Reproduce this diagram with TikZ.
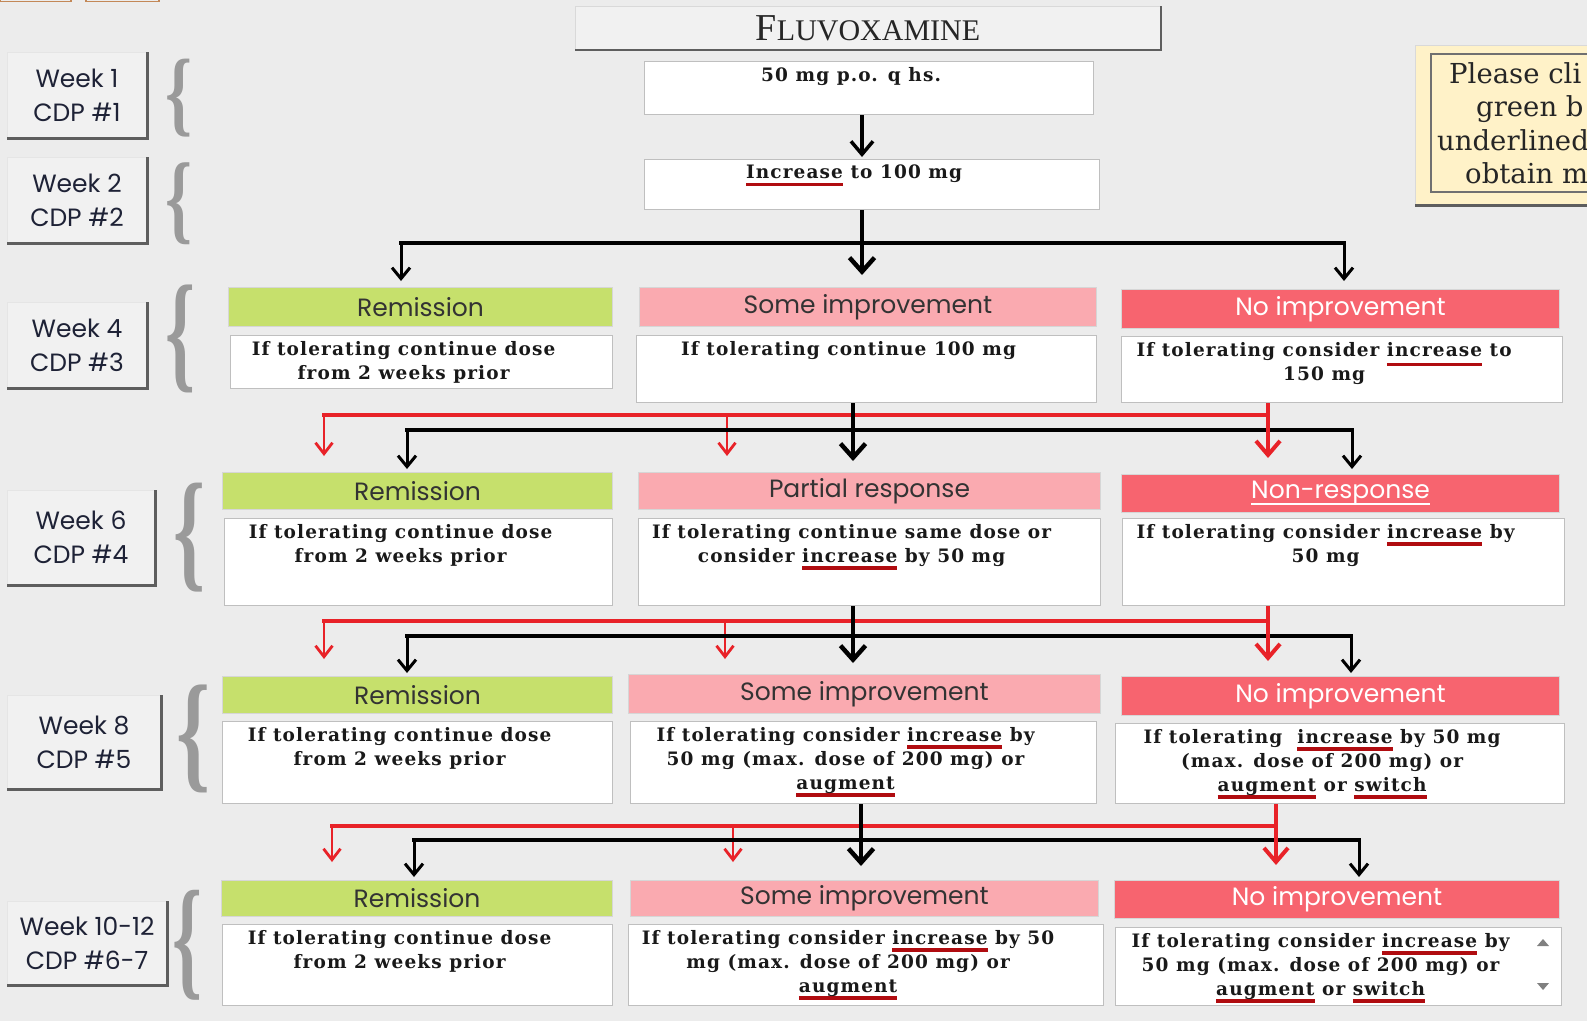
\documentclass[tikz,border=0pt]{standalone}
\usepackage{fontspec}
\usepackage{graphicx}
\setmainfont{DejaVu Serif}
\newfontfamily\hdfont{Poppins}
\newfontfamily\ttlfont{Liberation Serif}
\newfontfamily\bodyfont[LetterSpace=6]{DejaVu Serif}
\usetikzlibrary{arrows.meta}

\definecolor{bg}{HTML}{ECECEC}
\definecolor{remgreen}{HTML}{C6E06C}
\definecolor{somepink}{HTML}{FAAAB0}
\definecolor{nored}{HTML}{F7646F}
\definecolor{ulred}{HTML}{B00C10}
\definecolor{arrred}{HTML}{E82228}
\definecolor{hdtext}{HTML}{333333}
\definecolor{weektext}{HTML}{1E2236}
\definecolor{bracegray}{HTML}{9A9A9A}
\definecolor{notebg}{HTML}{FFF2C8}
\definecolor{notefrm}{HTML}{707070}
\definecolor{btnfill}{HTML}{F1F1F1}
\definecolor{btnshadow}{HTML}{5E5E5E}
\definecolor{tanfrm}{HTML}{C38857}

% underlined link words
\newsavebox\ulbox
\newcommand\ulc[4]{\sbox\ulbox{#4}\rlap{\color{#1}\rule[#2]{\wd\ulbox}{#3}}\usebox\ulbox}
\newcommand\redul[1]{\ulc{ulred}{-7.5pt}{3.6pt}{#1}}

% box from corner coordinates: style, name, x1, y1, x2, y2, text
\newcommand\mkbox[7]{\node[#1, anchor=north west, minimum width={#5-#3}, minimum height={#6-#4}] (#2) at (#3,#4) {#7};}
% week button with shadow
\newcommand\weekbtn[6]{%
  \mkbox{weekbox}{#1}{#2}{#3}{#4}{#5}{#6}
  \draw[btnshadow, line width=3pt] (#1.south west) -- (#1.south east) -- (#1.north east);}
% curly brace glyph stretched to a box
\newdimen\brw \newdimen\brh
\newcommand\bracebox[5]{\node[inner sep=0pt, text=bracegray] (#1) at ({(#2+#4)/2},{(#3+#5)/2})
  {\brw=\dimexpr#4pt-#2pt\relax\brh=\dimexpr#5pt-#3pt\relax\resizebox*{\brw}{\brh}{\ttlfont\bfseries\{}};}

\tikzset{
  hdbox/.style={draw=black!16, line width=1pt, inner sep=0pt,
    font=\hdfont\fontsize{25}{28}\selectfont, text=hdtext},
  remhd/.style={hdbox, fill=remgreen},
  somehd/.style={hdbox, fill=somepink},
  nohd/.style={hdbox, fill=nored, text=white},
  txtbox/.style={draw=black!25, fill=white, line width=1.2pt, inner sep=0pt},
  bodytxt/.style={font=\bodyfont\bfseries\fontsize{18.5}{24}\selectfont, align=center,
    inner sep=0pt, anchor=north, text=black!90, xshift=-18pt, yshift=-6pt},
  weekbox/.style={fill=btnfill, draw=white!90!black, line width=1pt, inner sep=0pt,
    font=\hdfont\fontsize{25}{34}\selectfont, text=weektext, align=center},
  blkh/.style={draw=black, line width=4.5pt, line cap=rect},
  blkdrop/.style={draw=black, line width=3pt, -{Straight Barb[length=11pt,width=18pt]}},
  blkmain/.style={draw=black, line width=4.5pt, -{Straight Barb[length=14pt,width=25pt]}},
  redh/.style={draw=arrred, line width=4.5pt, line cap=rect},
  reddrop/.style={draw=arrred, line width=2.8pt, -{Straight Barb[length=11pt,width=17pt]}},
  redmain/.style={draw=arrred, line width=4pt, -{Straight Barb[length=14pt,width=24pt]}},
}

\begin{document}
\begin{tikzpicture}[x=1pt, y=-1pt]
\fill[bg] (0,0) rectangle (1587,1021);
\useasboundingbox (0,0) rectangle (1587,1021);
\clip (0,0) rectangle (1587,1021);

% cut-off buttons at the top edge
\draw[draw=tanfrm, line width=1.5pt] (0,-20) rectangle (71,1.5);
\draw[draw=tanfrm, line width=1.5pt] (86,-20) rectangle (159,1.5);

% title
\mkbox{fill=btnfill, draw=white!85!black, line width=1pt, inner sep=0pt}{title}{575}{6}{1160}{49}
  {\ttlfont\color{black!85}\fontsize{38}{38}\selectfont F\fontsize{30}{30}\selectfont LUVOXAMINE}
\draw[btnshadow, line width=2.5pt] (title.south west) -- (title.south east) -- (title.north east);

% note panel
\fill[notebg] (1415,45) rectangle (1600,205);
\draw[white!85!black, line width=1pt] (1415,205) -- (1415,45) -- (1600,45);
\draw[btnshadow, line width=3pt] (1415,205) -- (1600,205);
\draw[notefrm, line width=2.5pt] (1600,54) -- (1431,54) -- (1431,192) -- (1600,192);
\begin{scope}[every node/.style={anchor=base west, inner sep=0pt,
    font=\fontsize{27.5}{33}\selectfont, text=black!85}]
  \node (n1) at (1449,83) {Please cli};
  \node (n2) at (1476,116) {green b};
  \node (n3) at (1437,150) {underlined};
  \node (n4) at (1465,183) {obtain m};
\end{scope}

% week buttons and braces
\weekbtn{w1}{7}{52}{146}{137}{Week 1\\CDP \#1}
\weekbtn{w2}{7}{157}{146}{242}{Week 2\\CDP \#2}
\weekbtn{w4}{7}{302}{146}{387}{Week 4\\CDP \#3}
\weekbtn{w6}{7}{490}{154}{584}{Week 6\\CDP \#4}
\weekbtn{w8}{7}{695}{160}{788}{Week 8\\CDP \#5}
\weekbtn{w10}{7}{901}{166}{984}{Week 10-12\\CDP \#6-7}
\bracebox{br1}{166}{59}{193}{137}
\bracebox{br2}{166}{163}{193}{245}
\bracebox{br4}{166}{285}{196}{393}
\bracebox{br6}{174}{483}{206}{592}
\bracebox{br8}{177}{685}{211}{793}
\bracebox{br10}{173}{890}{203}{1000}

% start
\mkbox{txtbox}{b1}{644}{61}{1093}{114}{}
\node[bodytxt] (b1t) at (b1.north) {50 mg p.o. q hs.};
\mkbox{txtbox}{b2}{644}{159}{1099}{209}{}
\node[bodytxt] (b2t) at (b2.north) {\redul{Increase} to 100 mg};

% week 4
\mkbox{remhd}{h11}{228}{287}{612}{326}{Remission}
\mkbox{somehd}{h12}{639}{287}{1096}{326}{Some improvement}
\mkbox{nohd}{h13}{1121}{289}{1559}{328}{No improvement}
\mkbox{txtbox}{t11}{230}{335}{612}{388}{}
\mkbox{txtbox}{t12}{636}{335}{1096}{402}{}
\mkbox{txtbox}{t13}{1121}{336}{1562}{402}{}
\node[bodytxt] (t11t) at (t11.north) {If tolerating continue dose\\from 2 weeks prior};
\node[bodytxt] (t12t) at (t12.north) {If tolerating continue 100 mg};
\node[bodytxt] (t13t) at (t13.north) {If tolerating consider \ulc{ulred}{-10pt}{3.6pt}{increase} to\\150 mg};

% week 6
\mkbox{remhd}{h21}{222}{472}{612}{509}{Remission}
\mkbox{somehd}{h22}{638}{472}{1100}{509}{Partial response}
\mkbox{nohd}{h23}{1121}{474}{1559}{512}{\ulc{white}{-6pt}{2pt}{Non-response}}
\mkbox{txtbox}{t21}{224}{518}{612}{605}{}
\mkbox{txtbox}{t22}{638}{518}{1100}{605}{}
\mkbox{txtbox}{t23}{1122}{518}{1564}{605}{}
\node[bodytxt] (t21t) at (t21.north) {If tolerating continue dose\\from 2 weeks prior};
\node[bodytxt] (t22t) at (t22.north) {If tolerating continue same dose or\\consider \redul{increase} by 50 mg};
\node[bodytxt] (t23t) at (t23.north) {If tolerating consider \redul{increase} by\\50 mg};

% week 8
\mkbox{remhd}{h31}{222}{676}{612}{713}{Remission}
\mkbox{somehd}{h32}{628}{674}{1100}{713}{Some improvement}
\mkbox{nohd}{h33}{1121}{676}{1559}{715}{No improvement}
\mkbox{txtbox}{t31}{222}{721}{612}{803}{}
\mkbox{txtbox}{t32}{630}{721}{1096}{803}{}
\mkbox{txtbox}{t33}{1115}{723}{1564}{803}{}
\node[bodytxt] (t31t) at (t31.north) {If tolerating continue dose\\from 2 weeks prior};
\node[bodytxt] (t32t) at (t32.north) {If tolerating consider \redul{increase} by\\50 mg (max. dose of 200 mg) or\\\redul{augment}};
\node[bodytxt] (t33t) at (t33.north) {If tolerating\ \ \redul{increase} by 50 mg\\(max. dose of 200 mg) or\\\redul{augment} or \redul{switch}};

% weeks 10-12
\mkbox{remhd}{h41}{221}{880}{612}{916}{Remission}
\mkbox{somehd}{h42}{630}{880}{1098}{916}{Some improvement}
\mkbox{nohd}{h43}{1114}{880}{1559}{918}{No improvement}
\mkbox{txtbox}{t41}{222}{924}{612}{1005}{}
\mkbox{txtbox}{t42}{628}{924}{1103}{1005}{}
\mkbox{txtbox}{t43}{1115}{927}{1561}{1005}{}
\node[bodytxt] (t41t) at (t41.north) {If tolerating continue dose\\from 2 weeks prior};
\node[bodytxt] (t42t) at (t42.north) {If tolerating consider \redul{increase} by 50\\mg (max. dose of 200 mg) or\\\redul{augment}};
\node[bodytxt] (t43t) at (t43.north) {If tolerating consider \redul{increase} by\\50 mg (max. dose of 200 mg) or\\\redul{augment} or \redul{switch}};
% scroll arrows
\fill[black!50] (1537,946) -- (1549,946) -- (1543,939) -- cycle;
\fill[black!50] (1537,983) -- (1549,983) -- (1543,990) -- cycle;

% ---- connectors ----
\coordinate (c0) at (862,157);
\draw[blkdrop, line width=3.5pt, -{Straight Barb[length=13pt,width=22pt]}] (b1.south -| c0) -- (c0);

% after week 2
\coordinate (j1) at (862,243);
\coordinate (j1l) at (401,243);
\coordinate (j1r) at (1344,243);
\coordinate (e1l) at (401,281);
\coordinate (e1c) at (862,275);
\coordinate (e1r) at (1344,281);
\draw[blkh] (j1l) -- (j1r);
\draw[blkdrop] (j1l) -- (e1l);
\draw[blkdrop] (j1r) -- (e1r);
\draw[blkmain] (b2.south -| j1) -- (e1c);

% after week 4
\coordinate (r2l) at (324,415);
\coordinate (r2m) at (727,415);
\coordinate (r2r) at (1268,415);
\coordinate (k2l) at (407,430);
\coordinate (k2c) at (853,430);
\coordinate (k2r) at (1352,430);
\draw[redh] (r2l) -- (r2r);
\draw[reddrop] (r2l) -- (324,456) coordinate (er2l);
\draw[reddrop] (r2m) -- (727,456) coordinate (er2m);
\draw[blkh] (k2l) -- (k2r);
\draw[blkdrop] (k2l) -- (407,469) coordinate (ek2l);
\draw[blkdrop] (k2r) -- (1352,469) coordinate (ek2r);
\draw[blkmain] (t12.south -| k2c) -- (853,461) coordinate (ek2c);
\draw[redmain] (t13.south -| r2r) -- (1268,458) coordinate (er2r);

% after week 6
\coordinate (r3l) at (324,621);
\coordinate (r3m) at (725,621);
\coordinate (r3r) at (1268,621);
\coordinate (k3l) at (407,636);
\coordinate (k3c) at (853,636);
\coordinate (k3r) at (1351,636);
\draw[redh] (r3l) -- (r3r);
\draw[reddrop] (r3l) -- (324,659) coordinate (er3l);
\draw[reddrop] (r3m) -- (725,659) coordinate (er3m);
\draw[blkh] (k3l) -- (k3r);
\draw[blkdrop] (k3l) -- (407,673) coordinate (ek3l);
\draw[blkdrop] (k3r) -- (1351,673) coordinate (ek3r);
\draw[blkmain] (t22.south -| k3c) -- (853,663) coordinate (ek3c);
\draw[redmain] (t23.south -| r3r) -- (1268,661) coordinate (er3r);

% after week 8
\coordinate (r4l) at (332,826);
\coordinate (r4m) at (733,826);
\coordinate (r4r) at (1276,826);
\coordinate (k4l) at (414,840);
\coordinate (k4c) at (861,840);
\coordinate (k4r) at (1359,840);
\draw[redh] (r4l) -- (r4r);
\draw[reddrop] (r4l) -- (332,862) coordinate (er4l);
\draw[reddrop] (r4m) -- (733,862) coordinate (er4m);
\draw[blkh] (k4l) -- (k4r);
\draw[blkdrop] (k4l) -- (414,877) coordinate (ek4l);
\draw[blkdrop] (k4r) -- (1359,877) coordinate (ek4r);
\draw[blkmain] (t32.south -| k4c) -- (861,866) coordinate (ek4c);
\draw[redmain] (t33.south -| r4r) -- (1276,865) coordinate (er4r);
\end{tikzpicture}
\end{document}
